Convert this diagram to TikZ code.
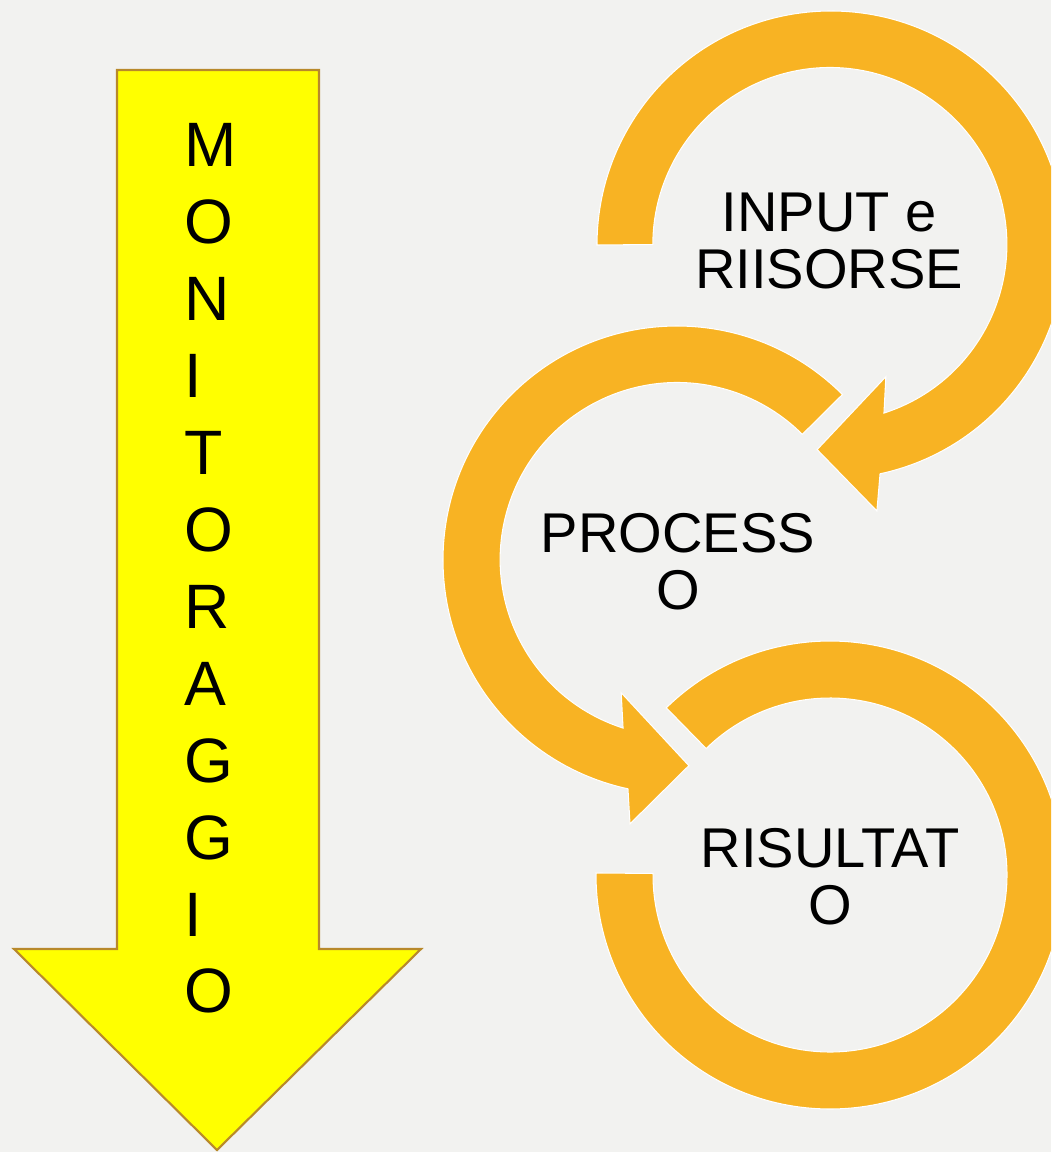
\documentclass[tikz,border=0pt]{standalone}
\usepackage{fontspec}
\setmainfont{Liberation Sans}
\definecolor{paper}{HTML}{F2F2F0}
\definecolor{gold}{HTML}{F8B323}
\definecolor{arrowfill}{HTML}{FFFF00}
\definecolor{arrowrim}{HTML}{B8892B}
\tikzstyle{letter} = [anchor=base west,inner sep=0pt,font=\fontsize{35.7}{36}\selectfont]
\tikzstyle{stagetext} = [anchor=north,inner sep=0pt,align=center,font=\fontsize{31.9}{32.4}\selectfont]
\tikzstyle{cyclearrow} = [fill=gold,draw=white,line width=0.6pt]

\begin{document}
\begin{tikzpicture}[x=0.02cm,y=0.02cm]
	\fill[paper] (0,0) rectangle (1051,-1152); \useasboundingbox (0,0) rectangle (1051,-1152);
	\clip (0,0) rectangle (1051,-1152);

	% monitoraggio
	\draw[fill=arrowfill,draw=arrowrim,line width=1.2pt] (117,-70) -- (319,-70) -- (319,-949) -- (421,-949) -- (217,-1150) -- (14,-949) -- (117,-949) -- cycle;
	\foreach \ch [count=\i] in {M,O,N,I,T,O,R,A,G,G,I,O}
		\node[letter] (m\i) at (184,{-167-76.9*(\i-1)}) {\ch};

	% input e risorse
	\begin{scope}[shift={(830,-245)}]
		\draw[cyclearrow] (180:233) arc[start angle=180,end angle=-77.9,radius=234] -- (-80:270) -- (-93.6:205) -- (-67:143) -- (-72.2:176.5) arc[start angle=-72.2,end angle=180,radius=177] -- cycle;
	\end{scope}
	\node[stagetext] (input) at (829,-193) {INPUT e\\RIISORSE};

	% processo
	\begin{scope}[shift={(677,-560)}]
		\draw[cyclearrow] (45:234) arc[start angle=45,end angle=257.9,radius=234] -- (259.9:268) -- (273.3:206) -- (247.2:144) -- (252.2:176.5) arc[start angle=252.2,end angle=45,radius=177] -- cycle;
	\end{scope}
	\node[stagetext] (processo) at (678,-513) {PROCESS\\O};

	% risultato
	\begin{scope}[shift={(830,-875)}]
		\draw[cyclearrow] (134.4:234) arc[start angle=134.4,end angle=-180.5,radius=234] -- (-180.5:177) arc[start angle=-180.5,end angle=134.4,radius=177] -- cycle;
	\end{scope}
	\node[stagetext] (risultato) at (830,-828) {RISULTAT\\O};
\end{tikzpicture}
\end{document}
